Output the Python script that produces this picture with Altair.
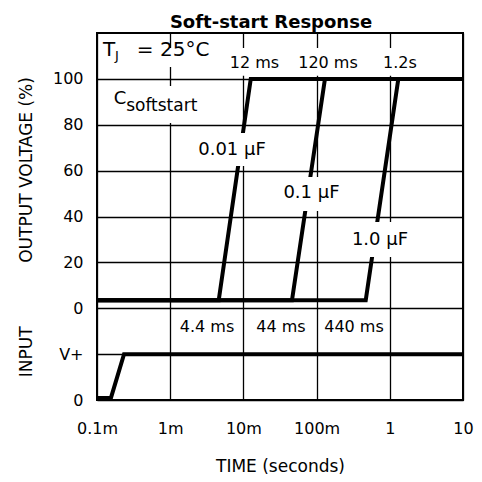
import json
import altair as alt
import pandas as pd

# ---------------- data ----------------
# time axis (seconds, log scale)
x_tick_values = [1e-4, 1e-3, 1e-2, 1e-1, 1, 10]
x_tick_labels = ["0.1m", "1m", "10m", "100m", "1", "10"]

# vertical axis: input band (0..20) and output band (40..140 = 0..100 %)
y_tick_values = [0, 20, 40, 60, 80, 100, 120, 140]
y_tick_labels = ["0", "V+", "0", "20", "40", "60", "80", "100"]

# input step (fraction of V+)
input_t = [1e-4, 1.55e-4, 2.34e-4, 10]
input_level = [0.045, 0.045, 1.0, 1.0]

# output voltage (%) for each soft-start capacitor
c001_t = [1e-4, 4.6e-3, 1.26e-2, 10]
c01_t = [1e-4, 4.61e-2, 0.130, 10]
c1_t = [1e-4, 0.469, 1.307, 10]
out_pct = [3.5, 3.5, 100, 100]

rows = []
for t, lv in zip(input_t, input_level):
    rows.append({"series": "input", "t": t, "v": 20 * lv})
for name, ts in [("0.01 µF", c001_t), ("0.1 µF", c01_t), ("1.0 µF", c1_t)]:
    for t, p in zip(ts, out_pct):
        rows.append({"series": name, "t": t, "v": 40 + p})
lines_df = pd.DataFrame(rows)

# annotation texts (time, plot value)
cap_labels = ["0.01 µF", "0.1 µF", "1.0 µF"]
cap_t = [6.99e-3, 8.51e-2, 0.734]
cap_v = [109.0, 90.2, 69.8]

top_labels = ["12 ms", "120 ms", "1.2s"]
top_t = [1.418e-2, 0.1431, 1.378]
top_v = [146.9, 146.9, 146.9]

bot_labels = ["4.4 ms", "44 ms", "440 ms"]
bot_t = [3.18e-3, 3.26e-2, 0.324]
bot_v = [31.8, 31.8, 31.8]

# white label backgrounds (time range, value range)
box_t1 = [1.1e-4, 6.56e-3, 5.23e-2, 0.628, 1.6e-4, 2.55e-3, 2.97e-2, 0.252]
box_t2 = [3.97e-3, 3.37e-2, 0.392, 3.03, 3.5e-3, 1.97e-2, 0.244, 1.89]
box_v1 = [145.2, 141.4, 141.4, 141.4, 120.8, 102.0, 82.4, 62.3]
box_v2 = [153.5, 153.5, 153.5, 153.5, 136.9, 116.4, 97.2, 77.6]

chart_title = "Soft-start Response"

FONT = "DejaVu Sans"

# ---------------- encodings ----------------
x_label_expr = json.dumps(x_tick_labels) + "[round(log(datum.value)/LN10)+4]"
y_label_expr = json.dumps(y_tick_labels) + "[round(datum.value/20)]"

xscale = alt.Scale(type="log", domain=[1e-4, 10], nice=False)
yscale = alt.Scale(domain=[0, 160], nice=False, zero=False)

X = alt.X(
    "t:Q", scale=xscale,
    axis=alt.Axis(values=x_tick_values, labelExpr=x_label_expr, title="TIME (seconds)",
                  ticks=False, domain=False, grid=True, labelFlush=False,
                  labelPadding=20, titlePadding=22, labelFontSize=16, titleFontSize=17),
)
Y = alt.Y(
    "v:Q", scale=yscale,
    axis=alt.Axis(values=y_tick_values, labelExpr=y_label_expr, title=None,
                  ticks=False, domain=False, grid=True, labelFlush=False,
                  labelPadding=14, labelFontSize=16),
)

lines = alt.Chart(lines_df).mark_line(color="black", strokeWidth=4).encode(
    x=X, y=Y, detail="series:N"
)

boxes_df = pd.DataFrame({"t": box_t1, "t2": box_t2, "v": box_v1, "v2": box_v2})
boxes = alt.Chart(boxes_df).mark_rect(fill="white").encode(
    x=X, x2="t2:Q", y=Y, y2="v2:Q"
)

def text_layer(labels, ts, vs, size, align="center"):
    df = pd.DataFrame({"label": labels, "t": ts, "v": vs})
    return alt.Chart(df).mark_text(
        font=FONT, fontSize=size, align=align, baseline="middle", color="black"
    ).encode(x=X, y=Y, text="label:N")

cap_text = text_layer(cap_labels, cap_t, cap_v, 18)
top_text = text_layer(top_labels, top_t, top_v, 16)
bot_text = text_layer(bot_labels, bot_t, bot_v, 16)

# T_J = 25°C and C_softstart
big_text = text_layer(["T", "=  25°C"], [1.208e-4, 3.5e-4], [152.8, 152.8], 20, align="left")
c_text = text_layer(["C"], [1.7e-4], [131.2], 18, align="left")
sub_j = text_layer(["J"], [1.76e-4], [150.0], 13, align="left")
sub_soft = text_layer(["softstart"], [2.5e-4], [128.0], 17, align="left")

# vertical axis titles
ytitle_df = pd.DataFrame({"label": ["OUTPUT VOLTAGE (%)", "INPUT"], "v": [100.3, 21.0]})
ytitles = alt.Chart(ytitle_df).mark_text(
    font=FONT, fontSize=17, angle=270, align="center", baseline="middle", color="black"
).encode(x=alt.value(-70), y=Y, text="label:N")

# chart title placed above the plot frame
title_df = pd.DataFrame({"label": [chart_title]})
title_mark = alt.Chart(title_df).mark_text(
    font=FONT, fontSize=18, fontWeight="bold", align="center", baseline="alphabetic",
    color="black"
).encode(x=alt.value(174), y=alt.value(-5), text="label:N")

chart = alt.layer(
    lines, boxes, cap_text, top_text, bot_text, big_text, c_text, sub_j, sub_soft,
    ytitles, title_mark
).properties(
    width=366, height=367,
    autosize=alt.AutoSizeParams(type="none"),
    padding={"left": 89, "top": 25, "right": 11, "bottom": 74},
).configure_view(
    stroke="black", strokeWidth=2
).configure_axis(
    gridColor="black", gridWidth=1.3, gridOpacity=1,
    labelFont=FONT, titleFont=FONT, labelColor="black", titleColor="black",
    titleFontWeight="normal",
)

chart.save("out.html", embed_options={"renderer": "svg", "actions": False})
